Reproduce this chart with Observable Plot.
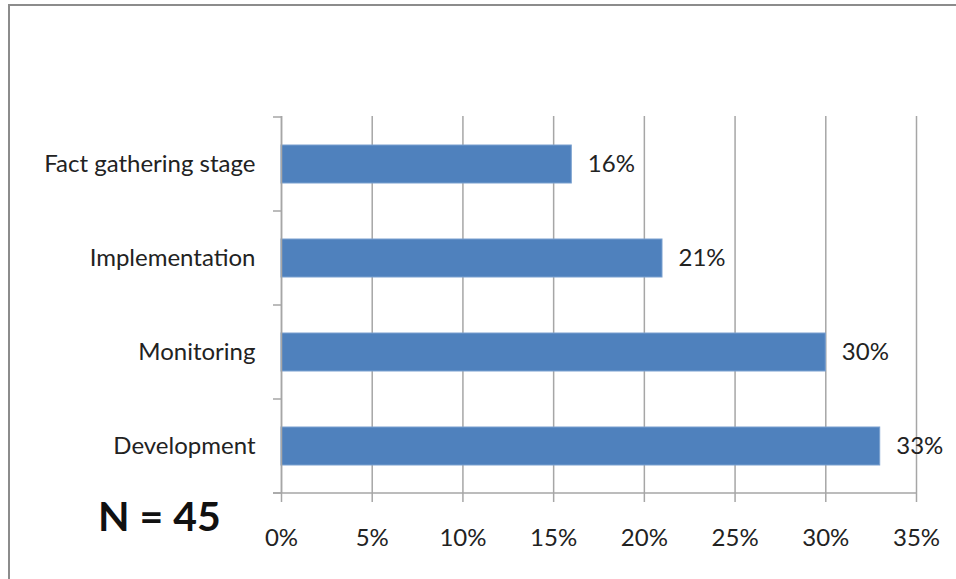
<!DOCTYPE html>
<html>
<head>
<meta charset="utf-8">
<script src="https://cdn.jsdelivr.net/npm/d3@7"></script>
<script src="https://cdn.jsdelivr.net/npm/@observablehq/plot@0.6"></script>
<style>
  html, body { margin: 0; padding: 0; background: #fff; }
  #wrap { position: relative; width: 956px; height: 579px; overflow: hidden; background: #fff; }
  #frame { position: absolute; left: 8px; top: 4px; width: 980px; height: 620px;
           border: 2px solid #8c8c8c; box-sizing: border-box; pointer-events: none; }
  #note { position: absolute; left: 98px; top: 495px; font-family: Lato, sans-serif;
          font-weight: bold; font-size: 41px; color: #111; line-height: 1; }
  svg { position: absolute; left: 0; top: 0; }
</style>
</head>
<body>
<div id="wrap">
  <div id="chart"></div>
  <div id="frame"></div>
  <div id="note">N = 45</div>
</div>
<script>
// Stages, top to bottom, with the share of respondents for each
const stages = ["Fact gathering stage", "Implementation", "Monitoring", "Development"];
const shares = [0.16, 0.21, 0.30, 0.33];
const xTicks = [0, 0.05, 0.10, 0.15, 0.20, 0.25, 0.30, 0.35];

const rows = stages.map((stage, i) => ({stage, share: shares[i]}));
const pct = d3.format(".0%");
const grid = "#a6a6a6";

const chart = Plot.plot({
  width: 956,
  height: 579,
  marginLeft: 281,
  marginRight: 40,
  marginTop: 116,
  marginBottom: 86,
  style: {fontFamily: "Lato, sans-serif", fontSize: "24px", color: "#222", background: "transparent"},
  x: {domain: [0, 0.35], ticks: xTicks},
  y: {domain: stages, paddingInner: 0.6, paddingOuter: 0.3},
  marks: [
    Plot.ruleX(xTicks, {stroke: grid, strokeWidth: 1.5}),
    Plot.barX(rows, {x: "share", y: "stage", fill: "#4f81bd", stroke: "#7aa0cf", strokeWidth: 1}),
    Plot.text(rows, {x: "share", y: "stage", text: d => pct(d.share), textAnchor: "start", dx: 16, fill: "#222"}),
    Plot.axisX({ticks: xTicks, tickFormat: pct, tickSize: 9, tickPadding: 26, stroke: grid, strokeWidth: 1.5, strokeOpacity: 1, label: null}),
    Plot.axisY({tickSize: 0, tickPadding: 26, label: null}),
    Plot.ruleX([0], {stroke: grid, strokeWidth: 1.5})
  ]
});

// Category boundary ticks on the left axis, plus the axis line along the bottom
const y = chart.scale("y");
const x = chart.scale("x");
const first = y.apply(stages[0]) - (y.step - y.bandwidth) / 2;
const bounds = d3.range(stages.length + 1).map(i => first + i * y.step);
const x0 = x.apply(0);
const svg = d3.select(chart);
svg.append("g")
  .selectAll("line").data(bounds).join("line")
  .attr("x1", x0 - 8).attr("x2", x0)
  .attr("y1", d => d).attr("y2", d => d)
  .attr("stroke", grid).attr("stroke-width", 1.5);
svg.append("line")
  .attr("x1", x0 - 8).attr("x2", x.apply(0.35))
  .attr("y1", bounds[bounds.length - 1]).attr("y2", bounds[bounds.length - 1])
  .attr("stroke", grid).attr("stroke-width", 1.5);

document.getElementById("chart").append(chart);
</script>
</body>
</html>
